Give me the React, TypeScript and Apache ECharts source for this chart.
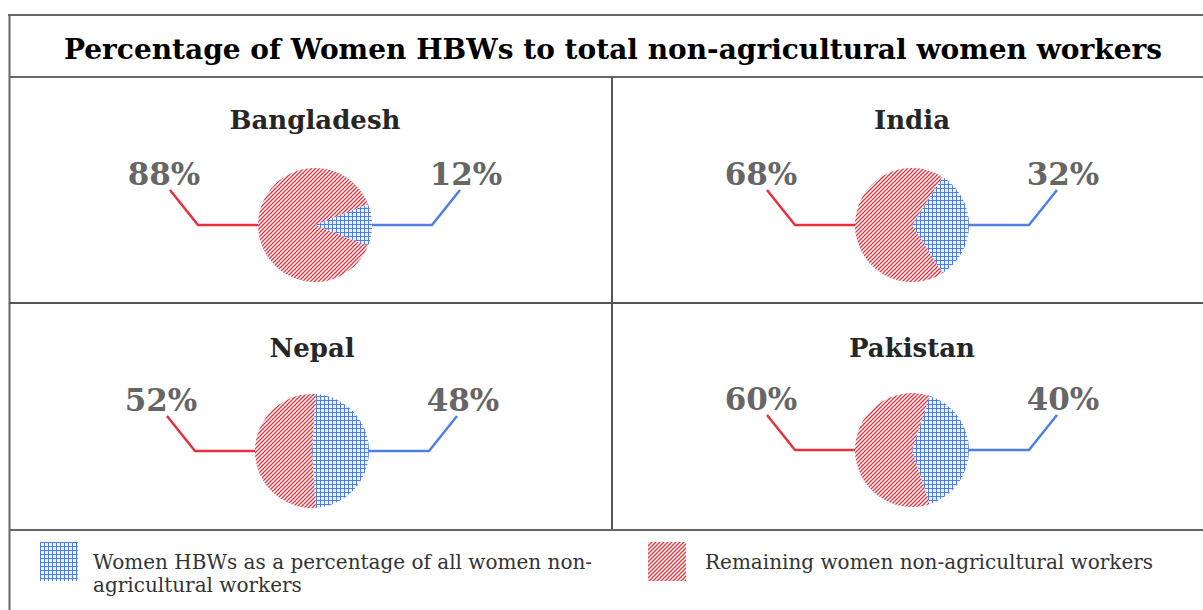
import React, { useEffect, useRef } from "react";
import * as echarts from "echarts";

const mainTitle = "Percentage of Women HBWs to total non-agricultural women workers";
const countries = ["Bangladesh", "India", "Nepal", "Pakistan"];
const hbwShare = [12, 32, 48, 40];
const remainingShare = [88, 68, 52, 60];
const hbwName = "Women HBWs as a percentage of all women non-agricultural workers";
const remainingName = "Remaining women non-agricultural workers";

const centers: [number, number][] = [
  [315, 225],
  [912, 225],
  [312, 451],
  [912, 450],
];
const titleY = [120, 120, 348, 348];
const RADIUS = 57;
const FONT = "'DejaVu Serif', serif";
const RED = "#e8303c";
const BLUE = "#4f7fe0";

const svgUrl = (s: string) => "data:image/svg+xml;charset=utf-8," + encodeURIComponent(s);
const redPattern = {
  image: svgUrl(
    "<svg xmlns='http://www.w3.org/2000/svg' width='4' height='4'><rect width='4' height='4' fill='#ffffff'/><path d='M-1,1 L1,-1 M0,4 L4,0 M3,5 L5,3' stroke='#e8303c' stroke-width='1.3'/></svg>"
  ),
  imageWidth: 4,
  imageHeight: 4,
  repeat: "repeat",
};
const bluePattern = {
  image: svgUrl(
    "<svg xmlns='http://www.w3.org/2000/svg' width='4' height='4'><rect width='4' height='4' fill='#eef3fd'/><path d='M0,0.5 H4 M0.5,0 V4' stroke='#4f7fe0' stroke-width='1'/></svg>"
  ),
  imageWidth: 4,
  imageHeight: 4,
  repeat: "repeat",
};

export default function App() {
  const ref = useRef<HTMLDivElement>(null);
  useEffect(() => {
    if (!ref.current) return;
    const chart = echarts.init(ref.current, null, { renderer: "svg" });
    const lineStyle = { stroke: "#666666", lineWidth: 2 };
    const series = countries.map((c, i) => ({
      type: "pie",
      name: c,
      center: centers[i],
      radius: RADIUS,
      startAngle: (hbwShare[i] * 3.6) / 2,
      clockwise: true,
      silent: true,
      avoidLabelOverlap: false,
      itemStyle: { borderWidth: 0 },
      label: {
        show: true,
        position: "outside",
        formatter: "{c}%",
        fontFamily: FONT,
        fontSize: 31,
        fontWeight: "bold",
        color: "#666666",
      },
      labelLine: { show: true, length: 20, length2: 20, lineStyle: { width: 2.5 } },
      labelLayout: (params: any) => {
        const side = params.dataIndex === 0 ? 1 : -1;
        const pts = params.labelLinePoints;
        const p0 = pts && pts[0] ? [pts[0][0], pts[0][1]] : [centers[i][0] + side * RADIUS, centers[i][1]];
        const p1 = [p0[0] + side * 60, p0[1]];
        const p2 = [p1[0] + side * 28, p1[1] - 35];
        return {
          x: p2[0] + side * 6,
          y: p2[1] - 1,
          align: "center",
          verticalAlign: "bottom",
          labelLinePoints: [p0, p1, p2],
        };
      },
      data: [
        { name: hbwName, value: hbwShare[i], itemStyle: { color: bluePattern }, labelLine: { lineStyle: { color: BLUE } } },
        { name: remainingName, value: remainingShare[i], itemStyle: { color: redPattern }, labelLine: { lineStyle: { color: RED } } },
      ],
    }));

    const titleTexts = countries.map((c, i) => ({
      type: "text",
      x: centers[i][0],
      y: titleY[i],
      style: {
        text: c,
        fill: "#262626",
        font: `bold 26px ${FONT}`,
        align: "center",
        verticalAlign: "middle",
      },
    }));

    chart.setOption({
      animation: false,
      legend: [
        {
          left: 40,
          top: 527,
          padding: 0,
          orient: "horizontal",
          icon: "rect",
          itemWidth: 38,
          itemHeight: 39,
          selectedMode: false,
          data: [hbwName],
          formatter: () => "\nWomen HBWs as a percentage of all women non-\nagricultural workers",
          textStyle: { fontFamily: FONT, fontSize: 20, color: "#333333", lineHeight: 23, padding: [0, 0, 0, 10] },
        },
        {
          left: 648,
          top: 542,
          padding: 0,
          orient: "horizontal",
          icon: "rect",
          itemWidth: 38,
          itemHeight: 39,
          selectedMode: false,
          data: [remainingName],
          textStyle: { fontFamily: FONT, fontSize: 20, color: "#333333", lineHeight: 23, padding: [0, 0, 0, 14] },
        },
      ],
      graphic: [
        { type: "line", shape: { x1: 8, y1: 15, x2: 1203, y2: 15 }, style: lineStyle },
        { type: "line", shape: { x1: 9.5, y1: 14, x2: 9.5, y2: 610 }, style: lineStyle },
        { type: "line", shape: { x1: 9, y1: 77, x2: 1203, y2: 77 }, style: lineStyle },
        { type: "line", shape: { x1: 612, y1: 77, x2: 612, y2: 530 }, style: { stroke: "#555555", lineWidth: 2 } },
        { type: "line", shape: { x1: 9, y1: 303, x2: 1203, y2: 303 }, style: { stroke: "#555555", lineWidth: 2 } },
        { type: "line", shape: { x1: 9, y1: 530, x2: 1203, y2: 530 }, style: lineStyle },
        {
          type: "text",
          x: 613,
          y: 49,
          style: {
            text: mainTitle,
            fill: "#000000",
            font: `bold 28px ${FONT}`,
            align: "center",
            verticalAlign: "middle",
          },
        },
        ...titleTexts,
      ],
      series,
    });
    return () => chart.dispose();
  }, []);
  return (
    <div
      ref={ref}
      style={{ position: "absolute", left: 0, top: 0, width: 1203, height: 610, background: "#ffffff" }}
    />
  );
}
